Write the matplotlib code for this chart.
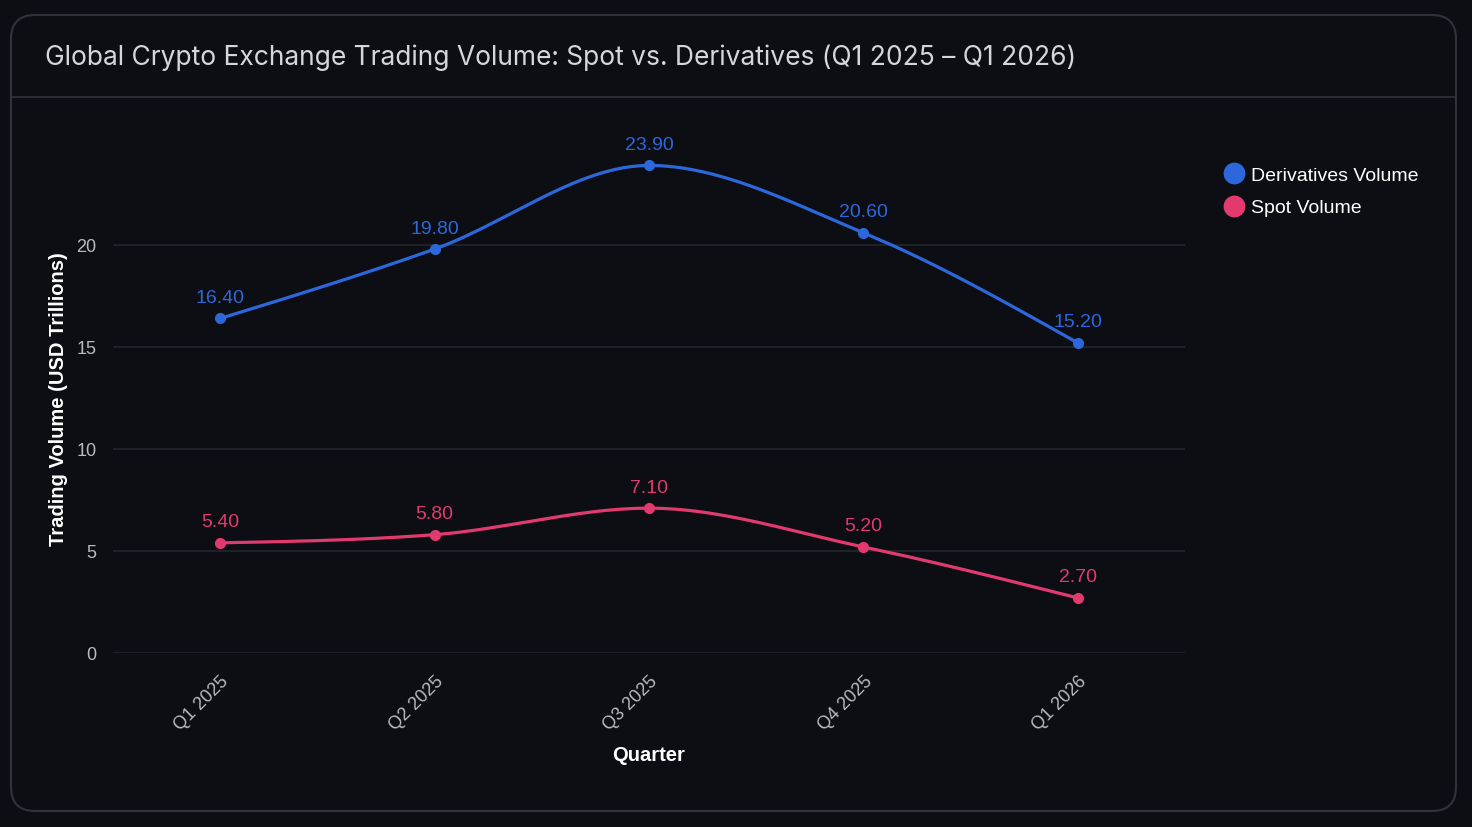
import numpy as np
import matplotlib.pyplot as plt
from matplotlib.patches import FancyBboxPatch

quarters = ["Q1 2025", "Q2 2025", "Q3 2025", "Q4 2025", "Q1 2026"]
derivatives = [16.4, 19.8, 23.9, 20.6, 15.2]
spot = [5.4, 5.8, 7.1, 5.2, 2.7]

blue = "#2d67dc"
pink = "#e23a6e"
bg = "#0c0e14"
border = "#30333b"
grid_c = "#24262d"
tick_c = "#b9bbc0"

plt.rcParams["font.family"] = ["Liberation Sans", "DejaVu Sans"]


def monotone(xs, ys, n=60):
    # d3 curveMonotoneX style tangents, sampled for drawing
    xs = np.asarray(xs, float)
    ys = np.asarray(ys, float)
    h = np.diff(xs)
    s = np.diff(ys) / h
    m = np.zeros(len(xs))
    for i in range(1, len(xs) - 1):
        p = (s[i - 1] * h[i] + s[i] * h[i - 1]) / (h[i - 1] + h[i])
        m[i] = (np.sign(s[i - 1]) + np.sign(s[i])) * min(abs(s[i - 1]), abs(s[i]), 0.5 * abs(p))
    m[0] = (3 * s[0] - m[1]) / 2
    m[-1] = (3 * s[-1] - m[-2]) / 2
    out_x, out_y = [], []
    for i in range(len(xs) - 1):
        t = np.linspace(0, 1, n)
        h00 = 2 * t**3 - 3 * t**2 + 1
        h10 = t**3 - 2 * t**2 + t
        h01 = -2 * t**3 + 3 * t**2
        h11 = t**3 - t**2
        out_x.append(xs[i] + t * h[i])
        out_y.append(h00 * ys[i] + h10 * h[i] * m[i] + h01 * ys[i + 1] + h11 * h[i] * m[i + 1])
    return np.concatenate(out_x), np.concatenate(out_y)


fig = plt.figure(figsize=(14.72, 8.28), dpi=100, facecolor=bg)

# card background
bg_ax = fig.add_axes([0, 0, 1, 1], zorder=0)
bg_ax.set_xlim(0, 1472)
bg_ax.set_ylim(828, 0)
bg_ax.axis("off")
bg_ax.add_patch(FancyBboxPatch((11, 16), 1445, 796, boxstyle="round,pad=0,rounding_size=24",
                               facecolor=bg, edgecolor=border, linewidth=1.5))
bg_ax.plot([11, 1456], [98, 98], color=border, linewidth=1.2)
bg_ax.text(45, 58, "Global Crypto Exchange Trading Volume: Spot vs. Derivatives (Q1 2025 \u2013 Q1 2026)",
           color="#d4d6da", fontsize=19, va="center", ha="left", family=["Inter", "DejaVu Sans"])

ax = fig.add_axes([113 / 1472, 1 - 654 / 828, (1185 - 113) / 1472, (654 - 144) / 828], zorder=1)
ax.set_facecolor("none")
x = np.arange(len(quarters))

for vals, col, name in [(derivatives, blue, "Derivatives Volume"), (spot, pink, "Spot Volume")]:
    cx, cy = monotone(x, vals)
    ax.plot(cx, cy, color=col, linewidth=2.3, solid_capstyle="round", zorder=3)
    ax.plot(x, vals, "o", color=col, markersize=7, zorder=4, label=name)
    for xi, v in zip(x, vals):
        ax.annotate(f"{v:.2f}", (xi, v), xytext=(0, 9), textcoords="offset points",
                    ha="center", va="bottom", color=col, fontsize=14)

ax.set_xlim(-0.5, len(quarters) - 0.5)
ax.set_ylim(0, 25)
ax.set_yticks([0, 5, 10, 15, 20])
ax.set_xticks(x)
ax.set_xticklabels(quarters, rotation=45, ha="right", rotation_mode="anchor")
ax.tick_params(axis="both", length=0, colors=tick_c, labelsize=13)
ax.tick_params(axis="x", pad=14)
ax.tick_params(axis="y", pad=12)
ax.grid(axis="y", color=grid_c, linewidth=1.2)
ax.set_axisbelow(True)
for sp in ax.spines.values():
    sp.set_visible(False)

ax.set_xlabel("Quarter", color="white", fontsize=14.5, fontweight="bold", labelpad=8)
ax.set_ylabel("Trading Volume (USD Trillions)", color="white", fontsize=14.5, fontweight="bold", labelpad=6)

leg = ax.legend(loc="upper left", bbox_to_anchor=(1.0185, 0.988), frameon=False, fontsize=14,
                labelcolor="white", handletextpad=0.25, labelspacing=0.75, markerscale=2.1,
                handlelength=1.2)

fig.savefig("out.png", dpi=100, facecolor=bg)
